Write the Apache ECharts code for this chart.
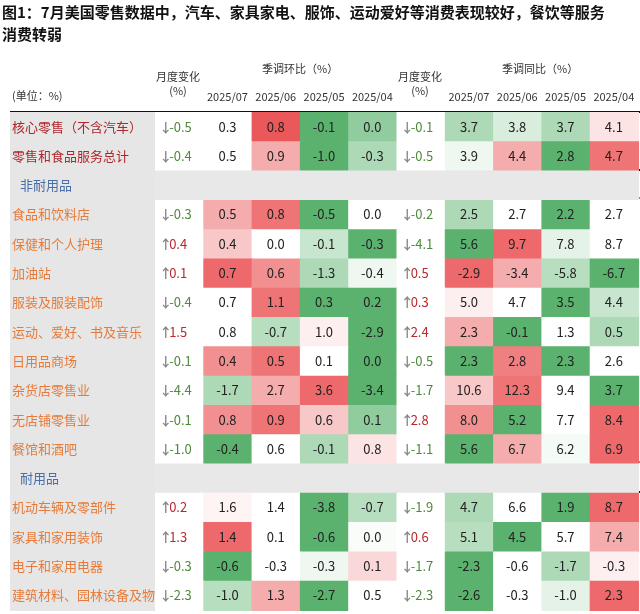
<!DOCTYPE html><html><head><meta charset="utf-8">
<script src="https://cdn.jsdelivr.net/npm/echarts@6/dist/echarts.min.js"></script>
<style>body{margin:0;background:#fff}#c{width:640px;height:614px}</style></head><body><div id="c"></div>
<script>
const rowNames=['核心零售（不含汽车）','零售和食品服务总计','非耐用品','食品和饮料店','保健和个人护理','加油站','服装及服装配饰','运动、爱好、书及音乐','日用品商场','杂货店零售业','无店铺零售业','餐馆和酒吧','耐用品','机动车辆及零部件','家具和家用装饰','电子和家用电器','建筑材料、园林设备及物料'];
const rowKind=['top','top','section','item','item','item','item','item','item','item','item','item','section','item','item','item','item'];
const dates=['2025/07','2025/06','2025/05','2025/04'];
const momChange=[-0.5,-0.4,null,-0.3,0.4,0.1,-0.4,1.5,-0.1,-4.4,-0.1,-1.0,null,0.2,1.3,-0.3,-2.3];
const mom=[[0.3,0.8,-0.1,0.0],[0.5,0.9,-1.0,-0.3],null,[0.5,0.8,-0.5,0.0],[0.4,0.0,-0.1,-0.3],[0.7,0.6,-1.3,-0.4],[0.7,1.1,0.3,0.2],[0.8,-0.7,1.0,-2.9],[0.4,0.5,0.1,0.0],[-1.7,2.7,3.6,-3.4],[0.8,0.9,0.6,0.1],[-0.4,0.6,-0.1,0.8],null,[1.6,1.4,-3.8,-0.7],[1.4,0.1,-0.6,0.0],[-0.6,-0.3,-0.3,0.1],[-1.0,1.3,-2.7,0.5]];
const yoyChange=[-0.1,-0.5,null,-0.2,-4.1,0.5,0.3,2.4,-0.5,-1.7,2.8,-1.1,null,-1.9,0.6,-1.7,-2.3];
const yoy=[[3.7,3.8,3.7,4.1],[3.9,4.4,2.8,4.7],null,[2.5,2.7,2.2,2.7],[5.6,9.7,7.8,8.7],[-2.9,-3.4,-5.8,-6.7],[5.0,4.7,3.5,4.4],[2.3,-0.1,1.3,0.5],[2.3,2.8,2.3,2.6],[10.6,12.3,9.4,3.7],[8.0,5.2,7.7,8.4],[5.6,6.7,6.2,6.9],null,[4.7,6.6,1.9,8.7],[5.1,4.5,5.7,7.4],[-2.3,-0.6,-1.7,-0.3],[-2.6,-0.3,-1.0,2.3]];
// heat levels (-3 strong green … +3 strong red)
const momHeat=[[0,3,-3,-2],[0,1.5,-3,-1.5],null,[1.5,2.5,-3,0],[1,0,-1,-3],[2.7,2,-1.5,-0.3],[0,2.5,-3,-3],[0,-1.3,0.3,-3],[2,2.5,0,-3],[-1.5,1.5,2.7,-3],[2,2.5,1,-2],[-3,0,-1.5,0.5],null,[0.2,0,-3,-1.3],[2.7,0,-3,-0.1],[-3,0,-0.3,0.7],[-1.3,1.5,-3,0]];
const yoyHeat=[[-1.5,-0.7,-1.5,0.5],[-0.3,1.5,-3,2.5],null,[-1.5,0,-3,0],[-3,2.7,-0.5,0],[2.7,1.5,-1.3,-3],[0.3,0,-3,-1],[1.5,-3,0,-1.5],[-3,2.3,-3,0],[1,2.5,0,-3],[2,-3,0,2.7],[-3,1.5,-0.2,2.7],null,[-1.5,0,-3,2.7],[-1.3,-3,0,1.5],[-3,0,-1.5,0.3],[-3,0,-0.5,2.7]];

const RED=[235,88,90],GREEN=[90,178,110],WHITE=[255,255,255];
function mix(a,b,t){return 'rgb('+a.map((x,i)=>Math.round(x+(b[i]-x)*t)).join(',')+')';}
function heatColor(h){return h>=0?mix(WHITE,RED,Math.min(h/3,1)):mix(WHITE,GREEN,Math.min(-h/3,1));}

const cols=['m','d0','d1','d2','d3','y','e0','e1','e2','e3'];
const cells=[];
rowNames.forEach((n,r)=>{
 if(rowKind[r]==='section'){for(let c=0;c<10;c++)cells.push([c,r,'','#e8e8e8','sec']);return;}
 cells.push([0,r,momChange[r],'#fff','chg']);
 mom[r].forEach((v,i)=>cells.push([1+i,r,v,heatColor(momHeat[r][i]),'val']));
 cells.push([5,r,yoyChange[r],'#fff','chg']);
 yoy[r].forEach((v,i)=>cells.push([6+i,r,v,heatColor(yoyHeat[r][i]),'val']));
});
const names=rowNames.map((n,r)=>[0,r,n,rowKind[r]]);

const chart=echarts.init(document.getElementById('c'));
const F='"Noto Sans CJK SC","Noto Sans",sans-serif';
function hline(y,x1,w,c){return {type:'rect',shape:{x:x1,y:y,width:w,height:2},style:{fill:c}};}
chart.setOption({
 animation:false,
 grid:[{left:10,top:112,width:145,bottom:4},{left:155,top:112,right:2,bottom:4}],
 xAxis:[{gridIndex:0,type:'category',data:['n'],show:false},{gridIndex:1,type:'category',data:cols,show:false}],
 yAxis:[{gridIndex:0,type:'category',data:rowNames,inverse:true,show:false},{gridIndex:1,type:'category',data:rowNames,inverse:true,show:false}],
 series:[
 {type:'custom',xAxisIndex:0,yAxisIndex:0,data:names,renderItem:(p,api)=>{
   const c=api.coord([0,api.value(1)]),s=api.size([1,1]);const k=names[p.dataIndex][3];
   return {type:'group',children:[{type:'rect',shape:{x:c[0]-s[0]/2,y:c[1]-s[1]/2,width:s[0]+1,height:s[1]+1},style:{fill:'#e6e6e6'}},
    {type:'text',style:{text:names[p.dataIndex][2],x:c[0]-s[0]/2+(k==='section'?10:2),y:c[1],verticalAlign:'middle',font:'13px '+F,fill:k==='top'?'#b0262c':k==='section'?'#4a6ea8':'#e57b3a'}}]};}},
 {type:'custom',xAxisIndex:1,yAxisIndex:1,data:cells,renderItem:(p,api)=>{
   const d=cells[p.dataIndex];const c=api.coord([d[0],d[1]]),s=api.size([1,1]);
   const ch=[{type:'rect',shape:{x:c[0]-s[0]/2,y:c[1]-s[1]/2,width:s[0]+1,height:s[1]+1},style:{fill:d[3]}}];
   if(d[4]==='val')ch.push({type:'text',style:{text:d[2].toFixed(1),x:c[0],y:c[1],align:'center',verticalAlign:'middle',font:'13px '+F,fill:'#222'}});
   if(d[4]==='chg'){const up=d[2]>0;
     ch.push({type:'text',style:{text:up?'↑':'↓',x:c[0]-20,y:c[1],verticalAlign:'middle',font:'bold 13px '+F,fill:'#888'}});
     ch.push({type:'text',style:{text:d[2].toFixed(1),x:c[0]-10,y:c[1],verticalAlign:'middle',font:'13px '+F,fill:up?'#b8282e':'#4f8a3c'}});}
   return {type:'group',children:ch};}}
 ],
 graphic:[
  {type:'text',left:2,top:1,style:{text:'图1：7月美国零售数据中，汽车、家具家电、服饰、运动爱好等消费表现较好，餐饮等服务\n消费转弱',font:'bold 15px '+F,fill:'#111',lineHeight:22}},
  {type:'text',left:12,top:90,style:{text:'(单位：%)',font:'11px '+F,fill:'#333'}},
  {type:'text',x:178,y:70,style:{text:'月度变化\n(%)',font:'11px '+F,fill:'#333',align:'center',lineHeight:14}},
  {type:'text',x:420,y:70,style:{text:'月度变化\n(%)',font:'11px '+F,fill:'#333',align:'center',lineHeight:14}},
  {type:'text',left:262,top:63,style:{text:'季调环比（%）',font:'11px '+F,fill:'#333'}},
  {type:'text',left:502,top:63,style:{text:'季调同比（%）',font:'11px '+F,fill:'#333'}},
  ...dates.map((d,i)=>({type:'text',x:155+48.3*(1.5+i),y:91,style:{text:d,font:'11px '+F,fill:'#333',align:'center'}})),
  ...dates.map((d,i)=>({type:'text',x:155+48.3*(6.5+i),y:91,style:{text:d,font:'11px '+F,fill:'#333',align:'center'}})),
  hline(111,10,630,'#111'),hline(169,10,630,'#111'),hline(197,10,630,'#888'),hline(461,10,630,'#888'),hline(491,10,630,'#111')
 ]
});
</script></body></html>
